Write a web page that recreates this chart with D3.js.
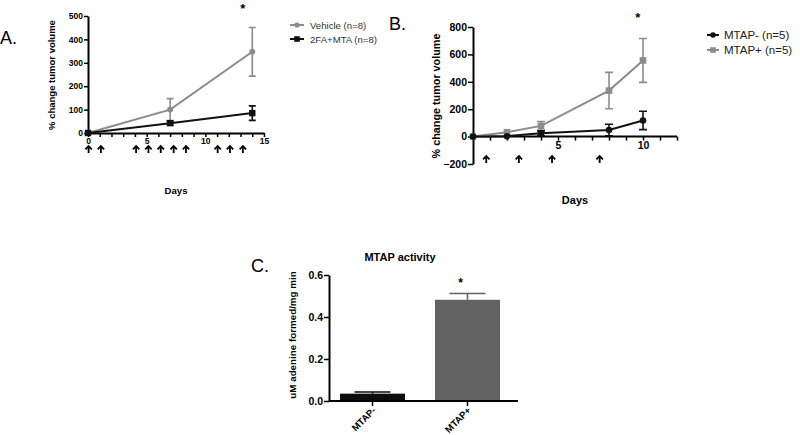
<!DOCTYPE html>
<html><head><meta charset="utf-8">
<script src="https://cdn.jsdelivr.net/npm/d3@7"></script>
<style>
html,body{margin:0;padding:0;background:#fff;}
svg{display:block;font-family:"Liberation Sans",Arial,sans-serif;}
</style></head>
<body><svg id="chart" width="800" height="435"></svg>
<script>
// ---------- Panel A data ----------
const aDays = [0, 7, 14];
const aVehicle = [0, 100, 347];
const aVehicleErr = [0, 47, 104];
const aTreat = [0, 42, 85];
const aTreatErr = [0, 9, 31];
const aArrowDays = [0.05, 1.1, 4.1, 5.15, 6.2, 7.3, 8.35, 11.05, 12.1, 13.2];
const aYTicks = [0, 100, 200, 300, 400, 500];
const aXTicks = [0, 5, 10, 15];
const aLegend = ["Vehicle (n=8)", "2FA+MTA (n=8)"];

// ---------- Panel B data ----------
const bDays = [0, 2, 4, 8, 10];
const bMinus = [0, 3, 24, 48, 118];
const bMinusErr = [0, 0, 18, 42, 67];
const bPlus = [0, 32, 78, 336, 556];
const bPlusErr = [0, 0, 32, 133, 160];
const bArrowDays = [0.78, 2.7, 4.65, 7.45];
const bYTicks = [-200, 0, 200, 400, 600, 800];
const bXTicks = [5, 10];
const bLegend = ["MTAP- (n=5)", "MTAP+ (n=5)"];

// ---------- Panel C data ----------
const cCats = ["MTAP-", "MTAP+"];
const cVals = [0.035, 0.482];
const cErr = [0.008, 0.03];
const cYTicks = [0.0, 0.2, 0.4, 0.6];

const GRAY = "#8c8c8c";
const DARK = "#111";
const svg = d3.select("#chart");

function arrow(g, x, y) {
  g.append("path")
    .attr("d", `M${x},${y+7}L${x},${y}M${x-3.2},${y+3.4}L${x},${y}L${x+3.2},${y+3.4}`)
    .attr("fill", "none").attr("stroke", "#000").attr("stroke-width", 1.8);
}
function marker(g, type, x, y, color, s) {
  if (type === "circle") g.append("circle").attr("cx", x).attr("cy", y).attr("r", s).attr("fill", color);
  else g.append("rect").attr("x", x - s).attr("y", y - s).attr("width", 2*s).attr("height", 2*s).attr("fill", color);
}
function series(g, xs, ys, xv, yv, ev, color, type, ms, cap) {
  const line = d3.line().x(d => xs(d[0])).y(d => ys(d[1]));
  g.append("path").datum(xv.map((d, i) => [d, yv[i]]))
    .attr("d", line).attr("fill", "none").attr("stroke", color).attr("stroke-width", 2);
  xv.forEach((d, i) => {
    if (ev[i] > 0) {
      const x = xs(d), y1 = ys(yv[i] + ev[i]), y0 = ys(yv[i] - ev[i]);
      g.append("path").attr("d", `M${x},${y0}L${x},${y1}M${x-cap},${y1}L${x+cap},${y1}M${x-cap},${y0}L${x+cap},${y0}`)
        .attr("stroke", color).attr("stroke-width", 1.6).attr("fill", "none");
    }
    marker(g, type, xs(d), ys(yv[i]), color, ms);
  });
}
function styleAxis(g, fs) {
  g.select(".domain").attr("stroke-width", 2);
  g.selectAll(".tick line").attr("stroke-width", 1.5);
  g.selectAll(".tick text").attr("font-size", fs).attr("font-weight", "bold").attr("fill", "#000")
    .attr("font-family", "Liberation Sans, Arial, sans-serif");
}

// ================= Panel A =================
{
  const g = svg.append("g");
  const x = d3.scaleLinear().domain([0, 15]).range([88, 264]);
  const y = d3.scaleLinear().domain([0, 500]).range([133, 16]);
  const gx = g.append("g").attr("transform", `translate(0,${y(0)})`)
    .call(d3.axisBottom(x).tickValues(d3.range(0, 16)).tickSize(4).tickFormat(d => aXTicks.includes(d) ? d : "").tickPadding(2).tickSizeOuter(0));
  styleAxis(gx, 8.5);
  gx.selectAll(".tick text").attr("dy", "0.6em");
  const gy = g.append("g").attr("transform", `translate(${x(0)},0)`)
    .call(d3.axisLeft(y).tickValues(aYTicks).tickSize(4).tickPadding(1).tickSizeOuter(0));
  styleAxis(gy, 8.5);
  series(g, x, y, aDays, aVehicle, aVehicleErr, GRAY, "circle", 3, 3.5);
  series(g, x, y, aDays, aTreat, aTreatErr, DARK, "rect", 3.2, 3.5);
  aArrowDays.forEach(d => arrow(g, x(d), 146));
  g.append("text").attr("x", x(13.2)).attr("y", 13).attr("text-anchor", "middle").attr("font-size", 13).attr("font-weight", "bold").text("*");
  g.append("text").attr("x", 0).attr("y", 44).attr("font-size", 18).text("A.");
  g.append("text").attr("transform", "translate(55,75) rotate(-90)").attr("text-anchor", "middle")
    .attr("font-size", 9.5).attr("font-weight", "bold").text("% change tumor volume");
  g.append("text").attr("x", 176).attr("y", 194).attr("text-anchor", "middle").attr("font-size", 9.6).attr("font-weight", "bold").text("Days");
  const lg = g.append("g");
  [[GRAY, "circle"], [DARK, "rect"]].forEach((s, i) => {
    const yy = 25 + i * 14;
    lg.append("line").attr("x1", 290).attr("x2", 304).attr("y1", yy).attr("y2", yy).attr("stroke", s[0]).attr("stroke-width", 2);
    marker(lg, s[1], 297, yy, s[0], s[1] === "circle" ? 2.6 : 2.8);
    lg.append("text").attr("x", 310).attr("y", yy + 3.5).attr("font-size", 9.6).attr("fill", "#333").text(aLegend[i]);
  });
}

// ================= Panel B =================
{
  const g = svg.append("g");
  const x = d3.scaleLinear().domain([0, 12]).range([473, 677]);
  const y = d3.scaleLinear().domain([-200, 800]).range([164, 27]);
  const gx = g.append("g").attr("transform", `translate(0,${y(0)})`)
    .call(d3.axisBottom(x).tickValues(d3.range(1, 13)).tickSize(4).tickFormat(d => bXTicks.includes(d) ? d : "").tickPadding(2).tickSizeOuter(0));
  styleAxis(gx, 10.5);
  gx.selectAll(".tick text").attr("dy", "0.6em");
  gx.select(".domain").attr("d", `M${x(0)},0H${x(12)}`);
  const gy = g.append("g").attr("transform", `translate(${x(0)},0)`)
    .call(d3.axisLeft(y).tickValues(bYTicks).tickSize(5).tickPadding(1).tickSizeOuter(0));
  styleAxis(gy, 10.5);
  series(g, x, y, bDays, bPlus, bPlusErr, GRAY, "rect", 3.3, 4);
  series(g, x, y, bDays, bMinus, bMinusErr, DARK, "circle", 3.3, 4);
  bArrowDays.forEach(d => arrow(g, x(d), 156));
  g.append("text").attr("x", x(9.7)).attr("y", 22).attr("text-anchor", "middle").attr("font-size", 13).attr("font-weight", "bold").text("*");
  g.append("text").attr("x", 389).attr("y", 30).attr("font-size", 18).text("B.");
  g.append("text").attr("transform", "translate(440,96) rotate(-90)").attr("text-anchor", "middle")
    .attr("font-size", 10.8).attr("font-weight", "bold").text("% change tumor volume");
  g.append("text").attr("x", 575).attr("y", 204).attr("text-anchor", "middle").attr("font-size", 11).attr("font-weight", "bold").text("Days");
  const lg = g.append("g");
  [[DARK, "circle"], [GRAY, "rect"]].forEach((s, i) => {
    const yy = 35 + i * 15;
    lg.append("line").attr("x1", 707).attr("x2", 719).attr("y1", yy).attr("y2", yy).attr("stroke", s[0]).attr("stroke-width", 2);
    marker(lg, s[1], 713, yy, s[0], 2.8);
    lg.append("text").attr("x", 724).attr("y", yy + 4).attr("font-size", 11.5).attr("fill", "#222").text(bLegend[i]);
  });
}

// ================= Panel C =================
{
  const g = svg.append("g");
  const x = d3.scaleBand().domain(cCats).range([329, 511]).paddingInner(0.316).paddingOuter(0.116);
  const y = d3.scaleLinear().domain([0, 0.6]).range([401, 275]);
  const colors = ["#0d0d0d", "#626262"];
  g.selectAll("rect.bar").data(cCats).enter().append("rect")
    .attr("x", d => x(d)).attr("width", x.bandwidth())
    .attr("y", (d, i) => y(cVals[i])).attr("height", (d, i) => y(0) - y(cVals[i]))
    .attr("fill", (d, i) => colors[i]);
  cCats.forEach((d, i) => {
    const cx = x(d) + x.bandwidth() / 2, top = y(cVals[i] + cErr[i]);
    g.append("path").attr("d", `M${cx},${y(cVals[i])}L${cx},${top}M${cx-18},${top}L${cx+18},${top}`)
      .attr("stroke", colors[i]).attr("stroke-width", 1.6).attr("fill", "none");
  });
  const gx = g.append("g").attr("transform", `translate(0,${y(0)})`)
    .call(d3.axisBottom(x).tickSize(5).tickSizeOuter(0));
  styleAxis(gx, 9.5);
  gx.select(".domain").attr("d", "M329,0H518");
  gx.selectAll(".tick text").attr("text-anchor", "end").attr("x", 0).attr("y", 0).attr("dy", 0)
    .attr("transform", "translate(4,10) rotate(-45)");
  const gy = g.append("g").attr("transform", `translate(329,0)`)
    .call(d3.axisLeft(y).tickValues(cYTicks).tickFormat(d3.format(".1f")).tickSize(5).tickPadding(1).tickSizeOuter(0));
  styleAxis(gy, 10.5);
  g.append("text").attr("x", x("MTAP+") + x.bandwidth() / 2 - 7).attr("y", 287).attr("text-anchor", "middle").attr("font-size", 12).attr("font-weight", "bold").text("*");
  g.append("text").attr("x", 400).attr("y", 261).attr("text-anchor", "middle").attr("font-size", 11).attr("font-weight", "bold").text("MTAP activity");
  g.append("text").attr("x", 251).attr("y", 272).attr("font-size", 18).text("C.");
  g.append("text").attr("transform", "translate(296,335) rotate(-90)").attr("text-anchor", "middle")
    .attr("font-size", 9.8).attr("font-weight", "bold").text("uM adenine formed/mg min");
}
</script></body></html>
